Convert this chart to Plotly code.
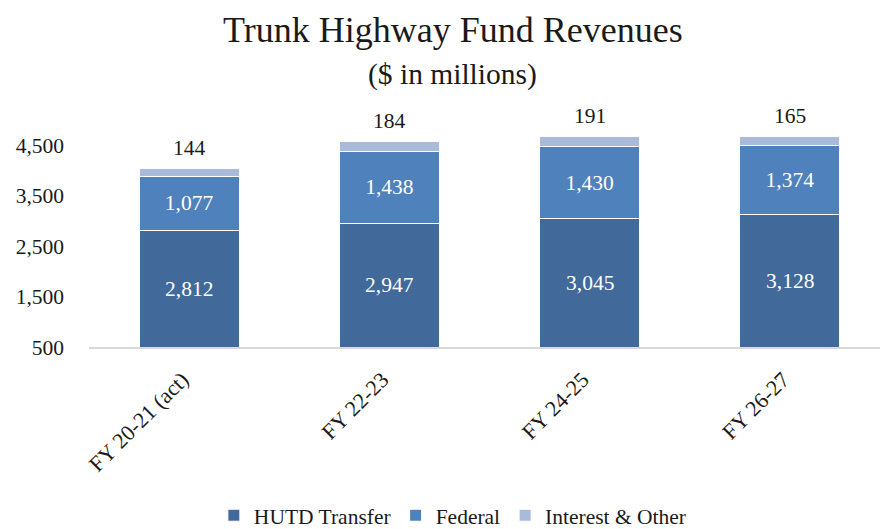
import plotly.graph_objects as go

categories = ["FY 20-21 (act)", "FY 22-23", "FY 24-25", "FY 26-27"]
hutd = [2812, 2947, 3045, 3128]
federal = [1077, 1438, 1430, 1374]
interest = [144, 184, 191, 165]
tick_vals = [500, 1500, 2500, 3500, 4500]
tick_text = ["500", "1,500", "2,500", "3,500", "4,500"]
y_min, y_max = 500, 5000

FONT = "Liberation Serif, DejaVu Serif, serif"

fig = go.Figure()
fig.add_trace(go.Bar(
    x=categories, y=hutd, name="HUTD Transfer",
    marker=dict(color="#41699A", line=dict(color="white", width=1)),
    textposition="none", width=0.5,
))
fig.add_trace(go.Bar(
    x=categories, y=federal, name="Federal",
    marker=dict(color="#4F81BD", line=dict(color="white", width=1)),
    text=[f"{v:,}" for v in federal], textposition="inside", insidetextanchor="middle",
    textfont=dict(color="white", size=21.5, family=FONT), width=0.5,
))
fig.add_trace(go.Bar(
    x=categories, y=interest, name="Interest & Other",
    marker=dict(color="#A9BADB", line=dict(color="white", width=1)),
    textposition="none", width=0.5, cliponaxis=False,
))

# HUTD labels centred on the visible part of the bar (axis starts at y_min)
for c, h in zip(categories, hutd):
    fig.add_annotation(x=c, y=(y_min + h) / 2, text=f"{h:,}", showarrow=False,
                       font=dict(size=21.5, color="white", family=FONT))

for c, h, f, i in zip(categories, hutd, federal, interest):
    fig.add_annotation(x=c, y=h + f + i, text=f"{i:,}", showarrow=False,
                       yshift=21, font=dict(size=21.5, color="#1a1a1a", family=FONT))

fig.add_annotation(text="Trunk Highway Fund Revenues", xref="paper", yref="paper",
                   x=0.46, y=1.396, showarrow=False, yanchor="middle",
                   font=dict(size=36, color="#1a1a1a", family=FONT))
fig.add_annotation(text="($ in millions)", xref="paper", yref="paper",
                   x=0.46, y=1.20, showarrow=False, yanchor="middle",
                   font=dict(size=29.5, color="#1a1a1a", family=FONT))

fig.update_layout(
    barmode="stack",
    width=880, height=529,
    margin=dict(l=89, r=0, t=120, b=182, autoexpand=False),
    paper_bgcolor="white", plot_bgcolor="white",
    font=dict(family=FONT, size=21, color="#1a1a1a"),
    showlegend=True,
    legend=dict(orientation="h", x=0.46, xanchor="center",
                y=0.026, yref="container", yanchor="middle",
                font=dict(size=21.5, family=FONT), traceorder="normal", itemwidth=30),
    bargap=0.5,
)
fig.update_xaxes(range=[-0.5, 3.45], showline=True, linecolor="#D9D9D9", linewidth=2,
                 tickangle=-45, ticks="", showgrid=False, automargin=False,
                 ticklabelshift=-7, ticklabelstandoff=9,
                 tickfont=dict(size=22, family=FONT))
fig.update_yaxes(range=[y_min, y_max], tickvals=tick_vals, ticktext=tick_text,
                 showgrid=False, showline=False, zeroline=False, ticks="",
                 automargin=False, ticklabelstandoff=24,
                 tickfont=dict(size=21.5, family=FONT))

fig.write_html("out.html", config={"displayModeBar": False},
               post_script="document.body.style.margin='0';document.body.style.overflow='hidden';")
